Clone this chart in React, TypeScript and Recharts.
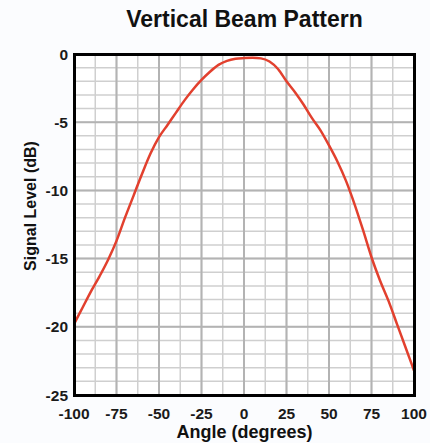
import React from "react";
import {
  CartesianGrid,
  Line,
  LineChart,
  XAxis,
  YAxis,
} from "recharts";

// beam pattern, 5 degree steps
const angles = [
  -100, -95, -90, -85, -80, -75, -70, -65, -60, -55, -50, -45, -40, -35, -30,
  -25, -20, -15, -10, -5, 0, 5, 10, 15, 20, 25, 30, 35, 40, 45, 50, 55, 60, 65,
  70, 75, 80, 85, 90, 95, 100,
];
const levels = [
  -19.8, -18.6, -17.4, -16.3, -15.1, -13.7, -12.0, -10.4, -8.8, -7.3, -6.1,
  -5.2, -4.3, -3.4, -2.6, -1.9, -1.3, -0.8, -0.5, -0.35, -0.3, -0.28, -0.32,
  -0.55, -1.1, -2.0, -2.8, -3.7, -4.7, -5.6, -6.7, -7.9, -9.3, -11.0, -12.9,
  -14.9, -16.6, -18.1, -19.8, -21.5, -23.2,
];

const xTicks = [-100, -75, -50, -25, 0, 25, 50, 75, 100];
const yTicks = [0, -5, -10, -15, -20, -25];
const xMinor = [
  -100, -87.5, -75, -62.5, -50, -37.5, -25, -12.5, 0, 12.5, 25, 37.5, 50, 62.5,
  75, 87.5, 100,
];
const yMinor = [
  0, -1, -2, -3, -4, -5, -6, -7, -8, -9, -10, -11, -12, -13, -14, -15, -16, -17,
  -18, -19, -20, -21, -22, -23, -24, -25,
];

const data = angles.map((angle, i) => ({ angle, level: levels[i] }));

const font = "'Liberation Sans', Arial, sans-serif";
const tickStyle = { fontSize: 15.5, fontWeight: 700, fill: "#1a1a1a", fontFamily: font };

// plot box from the chart margins / axis sizes below
const plot = { left: 74, top: 54, width: 340, height: 341 };

export default function App() {
  return (
    <div
      style={{
        position: "absolute",
        left: 0,
        top: 0,
        width: 430,
        height: 443,
        background: "#fbfcfe",
        fontFamily: font,
      }}
    >
      <div
        style={{
          position: "absolute",
          top: 6,
          left: 0,
          width: 489,
          textAlign: "center",
          fontSize: 23,
          fontWeight: 700,
          color: "#111",
        }}
      >
        Vertical Beam Pattern
      </div>
      <div
        style={{
          position: "absolute",
          left: 31,
          top: 206,
          transform: "translate(-50%, -50%) rotate(-90deg)",
          whiteSpace: "nowrap",
          fontSize: 16,
          fontWeight: 700,
          color: "#111",
        }}
      >
        Signal Level (dB)
      </div>
      <div
        style={{
          position: "absolute",
          top: 424,
          left: 0,
          width: 489,
          textAlign: "center",
          fontSize: 18,
          lineHeight: "16px",
          fontWeight: 700,
          color: "#111",
        }}
      >
        Angle (degrees)
      </div>
      <LineChart
        width={430}
        height={443}
        data={data}
        margin={{ top: 54, right: 16, left: 0, bottom: 0 }}
        style={{ position: "absolute", left: 0, top: 0 }}
      >
        <CartesianGrid
          stroke="#cfcfcf"
          strokeWidth={1.5}
          horizontalValues={yMinor}
          verticalValues={xMinor}
          fill="#ffffff"
        />
        <CartesianGrid stroke="#b3b3b3" strokeWidth={2} />
        <XAxis
          dataKey="angle"
          type="number"
          domain={[-100, 100]}
          ticks={xTicks}
          height={48}
          axisLine={false}
          tickLine={false}
          tickSize={0}
          tickMargin={13}
          tick={tickStyle}
          interval={0}
        />
        <YAxis
          type="number"
          domain={[-25, 0]}
          ticks={yTicks}
          width={74}
          axisLine={false}
          tickLine={false}
          tickSize={0}
          tickMargin={6}
          tick={tickStyle}
          interval={0}
        />
        <Line
          type="monotone"
          dataKey="level"
          stroke="#e2402e"
          strokeWidth={2.5}
          dot={false}
          isAnimationActive={false}
        />
      </LineChart>
      <div
        style={{
          position: "absolute",
          boxSizing: "border-box",
          left: plot.left - 1.5,
          top: plot.top - 1.5,
          width: plot.width + 3,
          height: plot.height + 3,
          border: "3px solid #000",
          pointerEvents: "none",
        }}
      />
    </div>
  );
}
